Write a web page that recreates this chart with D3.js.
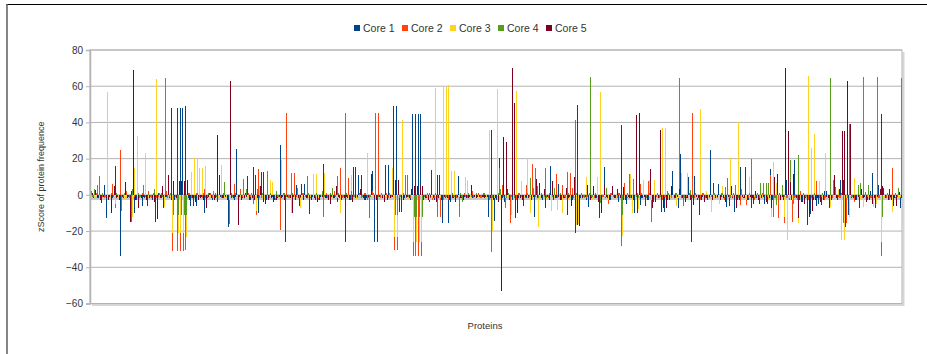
<!DOCTYPE html>
<html>
<head>
<meta charset="utf-8">
<script src="https://cdn.jsdelivr.net/npm/d3@7"></script>
<style>
  body { margin: 0; background: #fff; }
  svg { display: block; font-family: "Liberation Sans", Arial, sans-serif; }
</style>
</head>
<body>
<svg id="chart"></svg>
<script>
// zScore per protein, one array per core (300 proteins)
const core1 = [
  -1,-2,1,-2,-4.5,5.4,-13,-1,-2,16,-1,-34,-2,1,-1,2,-10,-3,-1,-6,
  -2,-6,-1,-3,-15,1,-2,-7.5,-1,-2,48,-3,48,48,48,49,-2,-6,-6,-6,
  -3,-1,-10,-2,1,-3,-2,-4,-1,-2,-1,-17.5,-2,-3,25.4,-1,-2,1,10.5,-3,
  15.5,11,-10,12.7,12.7,-3,-2,-1,-3,-2,27.6,-1,-26.3,-2,-3,-1,5.5,-6,6,6,
  -2,-10.3,-1,-3,-2,-1,17,-2,-3,-1,-2,-4,-2,-1,-26.3,-2,-3,15.5,15.5,11,
  11,-3,-2,-1,13.3,-26.3,-26.3,-2,-3,16.6,16.6,-1,49,49,-9.5,-9.5,-2,-1,-3,44.8,
  44.8,44.8,44.8,-3,-2,-4,13.8,-3,11,11,-15.3,-2,-15.3,-4,-2,-1,10.5,-2,-1,-2,
  -1,-2,-1,-1,-2,-1,-1,-12,36,-14.7,-3,20.4,-2,-4,3,-15.3,-3,-13,-2,-1,
  -6,-2,-1,-3,-12,-2,-1,-3,-7,-2,16,-3,-2,6,-3,-2,-11.4,-1,-3,-20.8,
  49.7,-2,-1,-3,-6.5,-2,-1,-2,-13,-1,15.5,-2,-3,-1,-2,-4,38.7,-3,-5,-2,
  -3,-10,-10,-5.5,-2,-6,-3,-2,-4,-1,-2,-9.2,-9.2,-3,-1,13.3,-2,-7.5,22.7,-3,
  -2,10,-26.3,10.5,-3,-11.4,-1,-2,-3,24.9,6.6,-2,6,-1,-3,-6.5,-6,-2,-9.7,-3,
  15.5,-2,15.5,-3,-7,-5,-2,-5,-1,-5,-5,14.4,-3,-2,-4,-1,-3,8.3,-2,-3,
  19.3,-2,-3,-4,-2,-16.4,-10.7,-3,-6,-5,-5.5,2,2,-7.5,-2,-1,-3,8.3,8.3,-17.5,
  -11.4,-2,-1,-3,-7.5,-2,-1,-3,2,12,-7.5,5.5,44.8,4,-2,3,-3,-2,-1,-7.5
];
const core2 = [
  2.4,-1,1,10.5,-1,-2,1,-1,6,-7.5,-1,25,-1,2,-2,-15,-1,1,-2,1,
  -1,2,-1,1,-2,-1,1,-2,2,-1,-31,-1,-31,-31,-31,-30.5,1,-2,-1,1,
  -1,-2,3.3,-1,1,-2,1,-1,-2,1,-1,-16,1,6,-2,3,-1,-2,1,-1,
  -5,-11.4,14.4,-2,-1,13.3,-2,1,-3,-1,-19.2,1,45.3,-2,12,12,-1,-2,1,-1,
  10.5,-2,1,-1,-3,-1,-12,1,-2,-1,2,10.5,15,-2,45.3,9.4,-3,-1,-2,1,
  -2,1,-3,-13,2,45.3,45.3,-2,-1,1,-2,-1,-30.2,-30.2,-2,1,11,11,-2,-33.5,
  -33.5,-33.5,-33.5,-2,-1,1,-3,-2,-12,-12,-2,-1,-3,5.5,-1,-2,-12,-1,1,-2,
  -1,2,-1,1,-2,1,-1,-2,-31.8,-2,1,15,5.5,-7,-1,-15.3,-2,-3,1,-1,
  -2,5.5,-1,17,15,5,-2,-1,15,-2,-9,-1,11.6,-2,5.5,-1,12.7,12,4,41.4,
  -2,1,-1,-2,1,-1,-2,1,-3,-1,-2,-5,1,-1,-2,1,-28.5,6.6,-2,11.6,
  -2,-1,1,6,7.7,-2,7.7,-15,6,-1,-2,-3,-1,2,-1,-2,1,-1,-2,-6,
  -1,1,45.3,-2,-1,-3,1,-2,-1,-2,1,-1,-2,1,-3,9.4,-2,-1,5.5,-2,
  -5.5,-1,-5.5,-2,20,-3,-1,-2,1,-2,-1,11,-12,-2,-13,-1,-15.3,-2,-3,-15,
  -2,-3,2,-2,-1,-3,-2,-1,7.7,-2,-1,-3,-2,-1,-2,4.4,-1,-2,-15.3,-15.3,
  -2,-1,-3.7,-2,-1,-2,1.5,-1,-2,-3,-1,-2,-33.5,-1,-2,-3,15,-2,-1,-2
];
const core3 = [
  -1,-2,-1,-2,1,-3,57,-2,-1,-5,-2,-1,-3,-1,-2,-12,15,32.6,-2,-1,
  23,-2,-1,-3,64,-2,-1,-6.5,-2,-1,-21,-2,-21,-21,-21,-23.5,-1,12.7,20.4,20.4,
  15,15,16,-2,-1,-3,-2,-1,16.6,-2,-1,-3,-2,-1,-2,-1,-3,-2,-1,-2,
  -2,-9,5,-2,-3,-1,8.3,7,-2,-1,19.3,-3,-2,-1,-10,-2,-1,-7,-2,-1,
  -2,-1,11.6,11.6,-2,-3,12,-1,-2,-1,-3,-2,-9.8,-1,-2,-1,11,-2,-3,-1,
  -2,-1,23,-2,-3,-1,-2,-1,-3,-2,-1,15,-23.5,-23.5,-2,41.4,-1,-3,-2,-25.8,
  -25.8,-25.8,-25.8,-2,-1,-3,-2,59,-1,-2,59.7,59.7,60.8,13.3,13.3,-2,-1,-3,10,8.3,
  -2,-1,-1,-2,-1,-1,-2,36,-20,-2,58.5,-3,-1,-2,-1,-11.4,-2,57.5,-1,7.7,
  -2,20.4,-10,-1,-3,-17.5,-2,-1,-3,-2,-9,-1,-8.5,-2,-10,-1,-3,-2,-1,-16.4,
  -16,-2,-1,10,-2,-3,-1,10,57,-2,-1,-3,-2,-1,-2,-1,-22.5,-2,-1,11.6,
  -10,-2,-8,-1,8.3,-2,8.3,-3,8.3,-1,4.4,37,37,-2,-1,-3,-6,-2,12,-1,
  12,-2,-1,-3,-2,47.5,-1,2,-2,-9.2,-1,-2,-5,5,-1,-2,20.4,-3,-1,40,
  -2,-1,-3,10,-2,-1,-3,-2,-1,-2,-3,-12.5,18.2,6.6,-2,-1,-12,-25.2,-2,-3,
  -2,-15.3,-1,-3,-2,65.7,26,33.7,-2,7.7,-1,23,-2,-6.5,-1,-3,2.7,-25.2,-25.2,-2,
  -12.5,-1,9.4,-2,-3,-6.5,-1,-2,-1,-6.5,-4.8,-2,-25.8,-1,-3,-2,-9.6,-1,-2,-1
];
const core4 = [
  -1,3,5.5,-1,1,-1,-2,1,-1,1,-1,-8.7,1,-1,-2,3,-1,1,-1,5.5,
  -1,1,-2,3,-1,1,-1,64.6,-2,1,-11.4,-1,-11.4,-11.4,-11.4,-11.4,1,-1,-2,1,
  -1,1,-2,1,-1,2,-1,1,-2,7,-1,30,-1,1,-2,1,9,3,-1,1,
  -1,3,-2,1,-1,-2,1,-1,2,-1,-2,1,-1,-2,1,-1,4,-2,1,-1,
  1,-1,-2,1,-1,2,-1,-2,1,4,-1,1,-2,-1,1,-1,2,-1,-2,1,
  -1,1,-2,-1,1,-2,-1,1,-1,-2,1,-1,-11.4,-11.4,-1,1,-2,-1,1,-12.5,
  -12.5,-12.5,-12.5,-1,1,-2,-1,1,-2,-1,-3,-1,-2,1,-1,-2,1,-4,-1,1,
  -1,-2,1,-1,-2,1,-1,-3,-2,-1,1,3,-1,-2,1,-1,-2,-1,1,-1,
  -2,1,9.4,4,-1,-2,1,-1,-2,1,-1,4,-2,1,-1,-2,1,-1,-2,1,
  -1,1,-2,-1,65,-1,1,-2,-4.5,-1,4,-2,1,-1,-2,1,-10.9,-1,1,-2,
  9,-1,-2,1,-1,-2,1,-1,-2,1,-1,-2,-1,1,-2,-1,1,64.6,-1,-2,
  -1,2.7,-2,1,-1,-2,1,-1,-2,-1,1,-2,-1,1,4.4,-1,-2,1,-1,-2,
  3,-1,-2,1,-1,-2,1,6.6,6.6,6.6,6.6,-1,-2,-5.5,1,5.5,-1,-2,19.3,-5,
  -1,22,-2,1,-1,-2,-1,1,-2,-1,1,-2,-1,64.6,8.3,-1,-2,1,17.1,-2,
  39.2,-1,-2,5.5,6.6,65,-1,5.5,-2,-1,65,-2,-12.5,-1,1,-2,-1,1,4,64.6
];
const core5 = [
  1,2.9,-2,-3,-1,-2,-3,-10,5,-2,-3,-1,7,-2,-15,69,-3,-7.5,-2,-1,
  -3,-2,-1,-4,-13.6,-2,5,-1,11,-3,7.7,-2,7.7,7.7,7.7,8.3,-3,-2,-4,-3,
  -2,-3,-7.5,-1,-2,-3,33,11,-2,-1,-3,63,-2,-1,-16.4,-3,-2,-1,-3,-2,
  -3,-2,5,-4,-5,-3,-2,-4,-3,-1,-2,-3,-1,-2,-10,-3,-2,-1,-3,-2,
  -1,-3,-2,-4,-3,-1,-2,-3,-5,-2,5,-1,-3,-2,-1,-3,-4,-2,-1,3,
  -2,-3,-1,11.6,-2,-3,-1,-2,-4,-3,-2,-1,8.3,8.3,-2,-3,-1,-2,3,5,
  5,5,5,-2,-3,-1,-2,-4,-2,-3,-1,-2,-3,-2,-4,-1,-2,-3,-1,-2,
  5.5,-1,-2,-1,-1,-2,-1,-2,-3,-2,-4,-53,32,29.3,-3,70,51,-10,-2,-3,
  -1,-2,-3,-1,9,6.6,-2,3,-1,-3,7.7,-2,-1,-3,-2,4,-2,-6,10,-16.4,
  -17,-2,-1,5.5,-3,5,-2,-4,-9.8,5.5,-1,-3,5,-2,3,-2,4.4,-3,-1,-2,
  -3,44,45,-2,-1,-3,14.4,-7,-4,-2,36,-7.5,-7.5,-3,5,-2,-1,3,-2,-4,
  -2,-3,-5.5,-1,-2,-3,-4,-2,-1,-3,-2,-1,-3,-2,-4,-1,5,-2,-7,-3,
  -1,-2,-3,-1,-2,2,-3,-2,-1,-4,-2,-7.5,10,11.6,-3,-1,70,35.4,7,11.6,
  -2,-13,-4,-5,-3,-12.5,-9,-3,-2,-4,-3,-1,-2,-3,11,-2,3,35.4,35.4,63,
  39.2,-2,-3,-1,3,-2,-4,-3,-5,-2,-1,3,5,-2,-3,-1,-6,-6,1.5,-2
];

const seriesNames = ["Core 1", "Core 2", "Core 3", "Core 4", "Core 5"];
const seriesColors = ["#004586", "#ff420e", "#ffd320", "#579d1c", "#7e0021"];
const yTicks = [-60, -40, -20, 0, 20, 40, 60, 80];
const proteins = core1.map((d, i) => i);

// chart dimensions
const width = 927;
const height = 354;
const plot = { left: 90, right: 902, top: 50, bottom: 303.5 };

const allSeries = [core1, core2, core3, core4, core5];

const svg = d3.select("#chart")
  .attr("width", width)
  .attr("height", height);

// outer frame of the chart object
svg.append("line")
  .attr("x1", 6).attr("x2", width)
  .attr("y1", 4.5).attr("y2", 4.5)
  .attr("stroke", "#000").attr("stroke-width", 1.2);
svg.append("line")
  .attr("x1", 7).attr("x2", 7)
  .attr("y1", 4).attr("y2", height)
  .attr("stroke", "#666").attr("stroke-width", 1.6);

// scales
const x = d3.scaleBand()
  .domain(proteins)
  .range([plot.left, plot.right])
  .paddingInner(1 / 6)
  .paddingOuter(1 / 12);

const xs = d3.scaleBand()
  .domain(seriesNames)
  .range([0, x.bandwidth()]);

const y = d3.scaleLinear()
  .domain([-60, 80])
  .range([plot.bottom, plot.top]);

// plot area shadow + border
svg.append("path")
  .attr("d", `M${plot.right + 1.5},${plot.top + 2}V${plot.bottom + 1.5}H${plot.left + 2}`)
  .attr("fill", "none")
  .attr("stroke", "#d6d6d6")
  .attr("stroke-width", 2);

// grid
svg.append("g")
  .selectAll("line")
  .data(yTicks)
  .join("line")
  .attr("x1", plot.left).attr("x2", plot.right)
  .attr("y1", d => y(d)).attr("y2", d => y(d))
  .attr("stroke", "#b3b3b3")
  .attr("stroke-width", 1);

svg.append("rect")
  .attr("x", plot.left).attr("y", plot.top)
  .attr("width", plot.right - plot.left)
  .attr("height", plot.bottom - plot.top)
  .attr("fill", "none")
  .attr("stroke", "#b3b3b3")
  .attr("stroke-width", 1);

// flatten bars
const bars = [];
allSeries.forEach((values, k) => {
  values.forEach((v, i) => {
    bars.push({ series: seriesNames[k], color: seriesColors[k], i: i, v: v });
  });
});

const barX = d => Math.round(x(d.i) + xs(d.series));

// light grey bar shadows just under the zero line
svg.append("g")
  .attr("shape-rendering", "crispEdges")
  .selectAll("rect")
  .data(bars)
  .join("rect")
  .attr("x", d => barX(d))
  .attr("y", y(0) + 1)
  .attr("width", 1)
  .attr("height", 4)
  .attr("fill", "#c8c8c8");

svg.append("g")
  .attr("shape-rendering", "crispEdges")
  .selectAll("rect")
  .data(bars)
  .join("rect")
  .attr("x", d => barX(d))
  .attr("y", d => y(Math.max(0, d.v)))
  .attr("width", Math.max(1, xs.bandwidth()))
  .attr("height", d => Math.max(1, Math.abs(y(d.v) - y(0))))
  .attr("fill", d => d.color);

// y axis
const yAxis = svg.append("g")
  .attr("transform", `translate(${plot.left},0)`)
  .call(d3.axisLeft(y).tickValues(yTicks).tickSize(4).tickPadding(3));
yAxis.select(".domain").attr("stroke", "#b3b3b3").attr("stroke-width", 1.5);
yAxis.selectAll(".tick line").attr("stroke", "#b3b3b3");
yAxis.selectAll(".tick text")
  .attr("fill", "#333")
  .style("font-size", "10px")
  .style("font-family", "'Liberation Sans', Arial, sans-serif");

// axis titles
svg.append("text")
  .attr("transform", `translate(44,${(plot.top + plot.bottom) / 2}) rotate(-90)`)
  .attr("text-anchor", "middle")
  .attr("fill", "#333")
  .style("font-size", "9px")
  .text("zScore of protein frequence");

svg.append("text")
  .attr("x", 485)
  .attr("y", 329)
  .attr("text-anchor", "middle")
  .attr("fill", "#333")
  .style("font-size", "9.5px")
  .text("Proteins");

// legend
const legend = svg.append("g")
  .selectAll("g")
  .data(seriesNames)
  .join("g")
  .attr("transform", (d, i) => `translate(${354 + i * 48},28)`);

legend.append("rect")
  .attr("x", 0).attr("y", -3)
  .attr("width", 6).attr("height", 6)
  .attr("fill", (d, i) => seriesColors[i]);

legend.append("text")
  .attr("x", 9)
  .attr("y", 4)
  .attr("fill", "#333")
  .style("font-size", "10.5px")
  .text(d => d);
</script>
</body>
</html>
